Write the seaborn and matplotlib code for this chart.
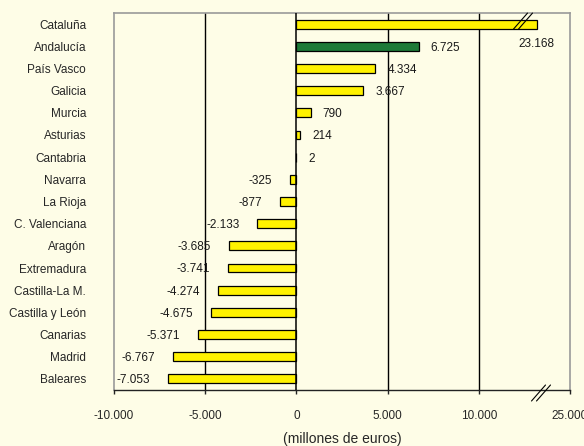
import numpy as np
import pandas as pd
import matplotlib
matplotlib.use("Agg")
import matplotlib.pyplot as plt
from matplotlib.lines import Line2D
import seaborn as sns

# Regional balance (millones de euros)
regions = ["Cataluña", "Andalucía", "País Vasco", "Galicia", "Murcia", "Asturias",
           "Cantabria", "Navarra", "La Rioja", "C. Valenciana", "Aragón",
           "Extremadura", "Castilla-La M.", "Castilla y León", "Canarias",
           "Madrid", "Baleares"]
values = [23168, 6725, 4334, 3667, 790, 214, 2, -325, -877, -2133, -3685,
          -3741, -4274, -4675, -5371, -6767, -7053]
highlight = "Andalucía"
x_ticks = [-10000, -5000, 0, 5000, 10000, 25000]
x_label = "(millones de euros)"

BG = "#FEFDE7"
YELLOW = "#FFF200"
GREEN = "#1D7A38"
GREY = "#9A9A9A"

sns.set_style("white", {"axes.facecolor": BG, "figure.facecolor": BG})
plt.rcParams["font.family"] = ["Liberation Sans", "DejaVu Sans"]
plt.rcParams["text.color"] = "#1a1a1a"

df = pd.DataFrame({"region": regions, "value": values})
palette = {r: (GREEN if r == highlight else YELLOW) for r in regions}

# Broken x axis: the span between B1 and B2 is squeezed so 25.000 sits where 15.000 would be
B1, SHIFT, S = 12000.0, 10000.0, 0.001
B2 = B1 + SHIFT / (1 - S)


def fwd(x):
    x = np.asarray(x, dtype=float)
    return np.where(x <= B1, x, np.where(x >= B2, x - SHIFT, B1 + (x - B1) * S))


def inv(y):
    y = np.asarray(y, dtype=float)
    top = B1 + (B2 - B1) * S
    return np.where(y <= B1, y, np.where(y >= top, y + SHIFT, B1 + (y - B1) / S))


fig = plt.figure(figsize=(5.84, 4.46), dpi=100)
ax = fig.add_axes([114 / 584, 1 - 390 / 446, (570 - 114) / 584, (390 - 13) / 446])
ax.set_xscale("function", functions=(fwd, inv))

sns.barplot(data=df, y="region", x="value", hue="region", palette=palette,
            legend=False, orient="h", width=0.4, edgecolor="black",
            linewidth=0.9, saturation=1, ax=ax, zorder=3)

ax.set_xlim(-10000, 25000)
ax.set_ylim(len(regions) - 0.5, -0.5)
ax.set_xticks(x_ticks)
ax.set_xticklabels([f"{t:,}".replace(",", ".") for t in x_ticks])
ax.set_ylabel("")
ax.set_xlabel(x_label, fontsize=10, labelpad=7)

for gx in [-5000, 5000, 10000]:
    ax.axvline(gx, color="black", lw=1.0, zorder=1)
ax.axvline(0, color="black", lw=1.1, zorder=4)

for side in ["left", "top", "right"]:
    ax.spines[side].set_color(GREY)
    ax.spines[side].set_linewidth(1.2)
ax.spines["bottom"].set_color("#222222")
ax.spines["bottom"].set_linewidth(1.0)

ax.tick_params(axis="x", direction="out", length=3, width=1.0, color="#222222",
               bottom=True, pad=11.5, labelsize=8.5)
ax.tick_params(axis="y", length=0, pad=20, labelsize=8.5)

# Value labels
for i, v in enumerate(values):
    txt = f"{v:,}".replace(",", ".")
    if v >= 20000:
        ax.annotate(txt, (v, i), xytext=(0, -14), textcoords="offset points",
                    ha="center", va="center", fontsize=8.5)
    elif v >= 0:
        ax.annotate(txt, (v, i), xytext=(8.5, -1), textcoords="offset points",
                    ha="left", va="center", fontsize=8.5)
    else:
        ax.annotate(txt, (v, i), xytext=(-13, -1), textcoords="offset points",
                    ha="right", va="center", fontsize=8.5)

# Break marks on the long bar and on the x axis
ax_w = (570 - 114)
ax_h = (390 - 13)
dx = 7 / ax_w
dy = 8 / ax_h
sep = 5 / ax_w
cat = regions.index("Cataluña")
ycat = 1 - (cat + 0.5) / len(regions) + 3 / ax_h
for cx, cy in [((523 - 114) / ax_w, ycat), ((541 - 114) / ax_w, -3 / ax_h)]:
    for k in (-0.5, 0.5):
        ax.add_line(Line2D([cx + k * sep - dx, cx + k * sep + dx],
                           [cy - dy, cy + dy], transform=ax.transAxes,
                           color="black", lw=0.8, clip_on=False, zorder=6))

fig.savefig("out.png", dpi=100, facecolor=BG)
